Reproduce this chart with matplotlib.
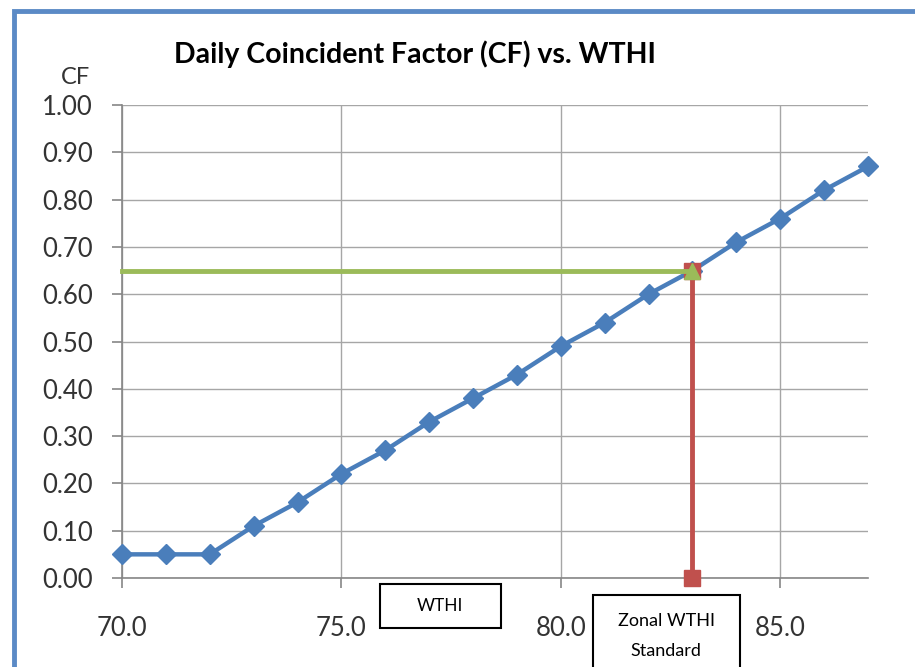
import matplotlib
matplotlib.use("Agg")
import matplotlib.pyplot as plt
from matplotlib.patches import Rectangle

plt.rcParams['font.family'] = ['Lato', 'DejaVu Sans']

# data
wthi = [70, 71, 72, 73, 74, 75, 76, 77, 78, 79, 80, 81, 82, 83, 84, 85, 86, 87]
cf = [0.05, 0.05, 0.05, 0.11, 0.16, 0.22, 0.27, 0.33, 0.38, 0.43,
      0.49, 0.54, 0.60, 0.65, 0.71, 0.76, 0.82, 0.87]
zonal_wthi = 83
zonal_cf = 0.65
x_ticks = [70, 75, 80, 85]
y_ticks = [0.0, 0.1, 0.2, 0.3, 0.4, 0.5, 0.6, 0.7, 0.8, 0.9, 1.0]

W, H = 915, 667
fig = plt.figure(figsize=(W / 100, H / 100), dpi=100)
ax = fig.add_axes([122 / W, 1 - 578 / H, (868 - 122) / W, (578 - 105) / H])

# outer chart frame (only left/top edges are visible)
fig.patches.append(Rectangle((14 / W, -0.2), 1.2, 1 - 11 / H + 0.2,
                             transform=fig.transFigure, fill=False,
                             edgecolor='#5B8AC6', linewidth=3.5))

blue = '#4A7EBB'
green = '#9BBB59'
red = '#C0504D'

ax.plot([zonal_wthi, zonal_wthi], [0, zonal_cf], color=red, lw=3.5,
        marker='s', markersize=12, zorder=4, clip_on=False)
ax.plot([wthi[0], zonal_wthi], [zonal_cf, zonal_cf], color=green, lw=3.5,
        marker='^', markersize=12, markevery=[1], zorder=5, clip_on=False)
ax.plot(wthi, cf, color=blue, lw=3.2, marker='D', markersize=10,
        zorder=3, clip_on=False)

ax.set_xlim(70, 87)
ax.set_ylim(0, 1)
ax.set_xticks(x_ticks)
ax.set_xticklabels([f'{v:.1f}' for v in x_ticks])
ax.set_yticks(y_ticks)
ax.set_yticklabels([f'{v:.2f}' for v in y_ticks])
ax.grid(True, color='#A6A6A6', lw=1)
ax.set_axisbelow(True)
for s in ['top', 'right']:
    ax.spines[s].set_visible(False)
for s in ['left', 'bottom']:
    ax.spines[s].set_color('#868686')
    ax.spines[s].set_linewidth(1.2)
ax.tick_params(axis='both', colors='#868686', labelcolor='#333333',
               labelsize=18.5, length=7, width=1.2)
ax.tick_params(axis='x', pad=20)
ax.tick_params(axis='y', pad=14)

fig.text(75 / W, 1 - 78 / H, 'CF', fontsize=17, ha='center', va='center',
         color='#333333')
fig.text(415 / W, 1 - 54 / H, 'Daily Coincident Factor (CF) vs. WTHI',
         fontsize=20.5, fontweight='bold', ha='center', va='center')

# annotation boxes
fig.patches.append(Rectangle((380 / W, 1 - 628 / H), 121 / W, 44 / H,
                             transform=fig.transFigure, fill=True,
                             facecolor='white', edgecolor='black', lw=1.5))
fig.text(440 / W, 1 - 606 / H, 'WTHI', fontsize=12.5, ha='center', va='center')
fig.patches.append(Rectangle((593 / W, -0.05), 147 / W, (667 - 595) / H + 0.05,
                             transform=fig.transFigure, fill=True,
                             facecolor='white', edgecolor='black', lw=1.5))
fig.text(666 / W, 1 - 621 / H, 'Zonal WTHI', fontsize=13, ha='center', va='center')
fig.text(666 / W, 1 - 651 / H, 'Standard', fontsize=13, ha='center', va='center')

fig.savefig('out.png', dpi=100)
